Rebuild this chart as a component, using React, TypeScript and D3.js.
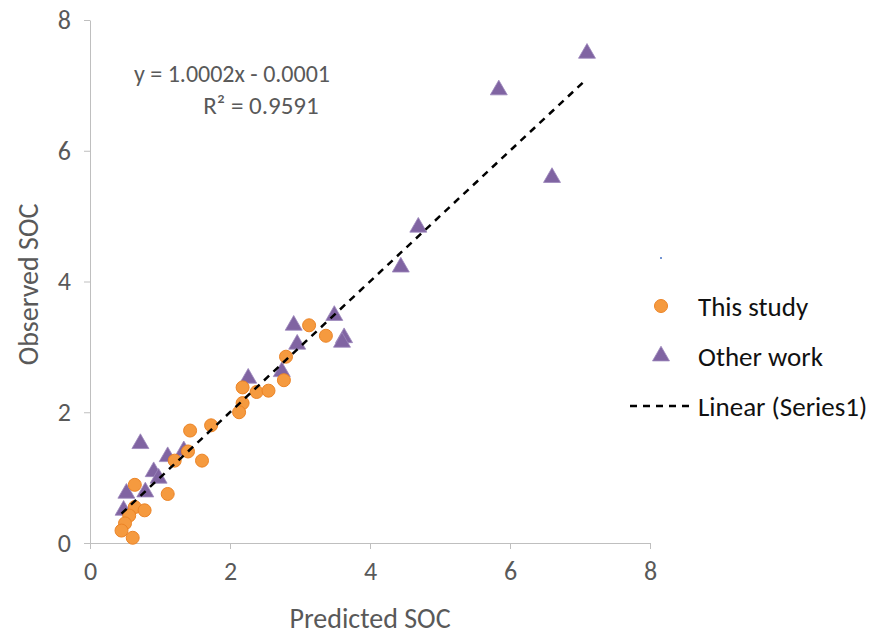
import React, { useEffect, useRef } from "react";
import * as d3 from "d3";

// This study (orange circles)
const studyX = [3.13, 3.37, 2.8, 2.77, 2.18, 2.38, 2.55, 2.18, 2.13, 1.73, 1.43, 1.4, 1.21, 1.6, 0.64, 1.11, 0.64, 0.78, 0.56, 0.5, 0.45, 0.61];
const studyY = [3.33, 3.17, 2.85, 2.49, 2.38, 2.31, 2.33, 2.14, 2.0, 1.8, 1.72, 1.4, 1.26, 1.26, 0.89, 0.75, 0.55, 0.5, 0.42, 0.3, 0.19, 0.08];

// Other work (purple triangles)
const otherX = [7.1, 5.84, 6.6, 4.69, 4.44, 3.49, 2.91, 2.96, 3.63, 3.6, 2.74, 2.26, 1.11, 1.34, 0.72, 0.91, 0.98, 0.79, 0.52, 0.48];
const otherY = [7.49, 6.93, 5.59, 4.83, 4.22, 3.48, 3.33, 3.04, 3.14, 3.07, 2.62, 2.52, 1.32, 1.41, 1.52, 1.09, 0.99, 0.78, 0.76, 0.5];

// Linear trendline
const slope = 1.0002;
const intercept = -0.0001;
const trendRange = [0.45, 7.05];

const xTicks = [0, 2, 4, 6, 8];
const yTicks = [0, 2, 4, 6, 8];

const legendItems = ["This study", "Other work", "Linear (Series1)"];

const FONT = "Carlito, Calibri, Lato, 'Open Sans', sans-serif";
const ORANGE = "#F59A3F";
const ORANGE_EDGE = "#EC8426";
const PURPLE = "#8064A2";

export default function App() {
  const ref = useRef<SVGSVGElement | null>(null);

  useEffect(() => {
    const width = 881;
    const height = 636;
    const margin = { top: 20, right: 231, bottom: 93, left: 90 };

    const root = d3.select(ref.current);
    root.selectAll("*").remove();

    const x = d3.scaleLinear().domain([0, 8]).range([margin.left, width - margin.right]);
    const y = d3.scaleLinear().domain([0, 8]).range([height - margin.bottom, margin.top]);

    // X axis
    const xAxis = root.append("g")
      .attr("transform", "translate(0," + y(0) + ")")
      .call(d3.axisBottom(x).tickValues(xTicks).tickSize(6).tickPadding(13).tickSizeOuter(0));
    xAxis.select(".domain").attr("stroke", "#bfbfbf");
    xAxis.selectAll(".tick line").attr("stroke", "#bfbfbf");
    xAxis.selectAll(".tick text")
      .attr("font-family", FONT).attr("font-size", 26).attr("fill", "#595959");

    // Y axis
    const yAxis = root.append("g")
      .attr("transform", "translate(" + x(0) + ",0)")
      .call(d3.axisLeft(y).tickValues(yTicks).tickSize(6).tickPadding(13).tickSizeOuter(0));
    yAxis.select(".domain").attr("stroke", "#bfbfbf");
    yAxis.selectAll(".tick line").attr("stroke", "#bfbfbf");
    yAxis.selectAll(".tick text")
      .attr("font-family", FONT).attr("font-size", 26).attr("fill", "#595959");

    // Axis titles
    root.append("text")
      .attr("x", (x(0) + x(8)) / 2)
      .attr("y", 628)
      .attr("text-anchor", "middle")
      .attr("font-family", FONT).attr("font-size", 28).attr("fill", "#595959")
      .text("Predicted SOC");

    root.append("text")
      .attr("transform", "translate(38," + ((y(0) + y(8)) / 2 + 3) + ") rotate(-90)")
      .attr("text-anchor", "middle")
      .attr("font-family", FONT).attr("font-size", 28).attr("fill", "#595959")
      .text("Observed SOC");

    // Other work triangles
    const tri = d3.symbol().type(d3.symbolTriangle).size(125);
    root.append("g")
      .selectAll("path")
      .data(otherX.map((v, i) => [v, otherY[i]]))
      .join("path")
      .attr("d", tri)
      .attr("transform", d => "translate(" + x(d[0]) + "," + y(d[1]) + ")")
      .attr("fill", PURPLE)
      .attr("stroke", "#9c86bb")
      .attr("stroke-width", 0.8);

    // This study circles
    root.append("g")
      .selectAll("circle")
      .data(studyX.map((v, i) => [v, studyY[i]]))
      .join("circle")
      .attr("cx", d => x(d[0]))
      .attr("cy", d => y(d[1]))
      .attr("r", 6.5)
      .attr("fill", ORANGE)
      .attr("stroke", ORANGE_EDGE)
      .attr("stroke-width", 1);

    // Trendline
    const line = d3.line<number>()
      .x(d => x(d))
      .y(d => y(slope * d + intercept));
    root.append("path")
      .datum(trendRange)
      .attr("fill", "none")
      .attr("stroke", "#000")
      .attr("stroke-width", 2.5)
      .attr("stroke-dasharray", "7,6")
      .attr("d", line);

    // Equation
    const eq = root.append("g")
      .attr("font-family", FONT).attr("font-size", 24).attr("fill", "#595959")
      .attr("text-anchor", "middle");
    eq.append("text").attr("x", 232).attr("y", 82)
      .text("y = 1.0002x - 0.0001");
    eq.append("text").attr("x", 261).attr("y", 114)
      .attr("font-size", 25)
      .text("R² = 0.9591");

    // Legend
    const legend = root.append("g").attr("transform", "translate(661,306)");
    legend.append("circle").attr("cx", 0).attr("cy", 0).attr("r", 6.5)
      .attr("fill", ORANGE).attr("stroke", ORANGE_EDGE);
    legend.append("path").attr("d", tri).attr("transform", "translate(0,50)")
      .attr("fill", PURPLE).attr("stroke", "#9c86bb").attr("stroke-width", 0.8);
    legend.append("line").attr("x1", -31).attr("x2", 29).attr("y1", 100).attr("y2", 100)
      .attr("stroke", "#000").attr("stroke-width", 2.5).attr("stroke-dasharray", "7,6");
    legend.append("circle").attr("cx", 0).attr("cy", -48).attr("r", 1).attr("fill", "#4472C4");
    legend.selectAll("text.item")
      .data(legendItems)
      .join("text")
      .attr("class", "item")
      .attr("x", 37)
      .attr("y", (d, i) => i * 50 + 10)
      .attr("font-family", FONT).attr("font-size", 27).attr("fill", "#111")
      .text(d => d);
  }, []);

  return (
    <div style={{ position: "absolute", left: 0, top: 0 }}>
      <svg ref={ref} width={881} height={636} style={{ display: "block", background: "#fff" }} />
    </div>
  );
}
